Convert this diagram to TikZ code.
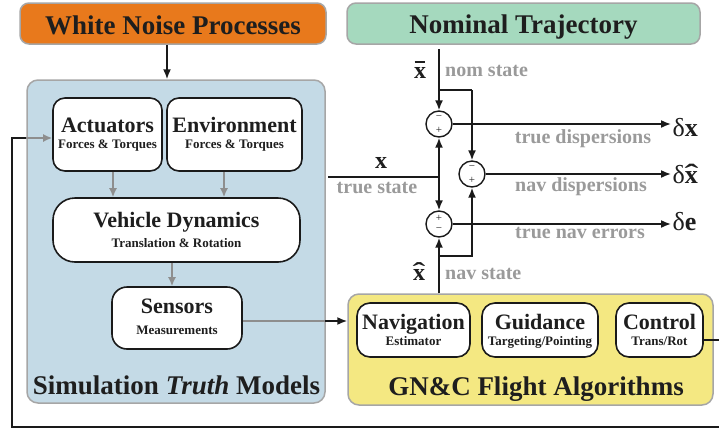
\documentclass[tikz,border=0pt]{standalone}
\usepackage{fontspec}
\usepackage{graphicx}
\setmainfont{Liberation Serif}
\usetikzlibrary{arrows.meta,calc}
\definecolor{txt}{HTML}{1E1E1E}
\definecolor{blk}{HTML}{1A1A1A}
\definecolor{bord}{HTML}{A6A6A6}
\definecolor{gtxt}{HTML}{9A9A9A}
\definecolor{garrow}{HTML}{8E8E8E}
\definecolor{orangeF}{HTML}{E8791C}
\definecolor{greenF}{HTML}{A5D9BE}
\definecolor{blueF}{HTML}{C4DAE6}
\definecolor{yellowF}{HTML}{F4E882}
\newcommand\fsz[1]{\fontsize{#1}{#1}\selectfont}
\newcommand\xbarsym{\ooalign{\bfseries x\cr\hidewidth\raisebox{0.62em}{\rule{0.44em}{0.075em}}\hidewidth\cr}}
\newcommand\xhatsym{\ooalign{\bfseries x\cr\hidewidth\raisebox{0.02em}{\scalebox{1.6}[1]{\bfseries ˆ}}\hidewidth\cr}}
\begin{document}
\begin{tikzpicture}[x=1pt,y=-1pt,
  bigbox/.style={draw=bord, line width=1.5pt, rounded corners=9pt, inner sep=0},
  wbox/.style={draw=blk, fill=white, line width=1.6pt, inner sep=0},
  ttl/.style={font=\bfseries\fsz{27}, text=txt, inner sep=0, anchor=base},
  hd/.style={font=\bfseries\fsz{22}, text=txt, inner sep=0, anchor=base},
  sub/.style={font=\bfseries\fsz{13}, text=txt, inner sep=0, anchor=base},
  glab/.style={font=\bfseries\fsz{20}, text=gtxt, inner sep=0, anchor=base},
  mlab/.style={font=\bfseries\fsz{24}, text=txt, inner sep=0, anchor=base},
  dlab/.style={font=\fsz{26}, text=txt, inner sep=1.5pt, anchor=base west},
  sumj/.style={circle, draw=blk, line width=1.4pt, minimum size=26pt, inner sep=0},
  sgn/.style={font=\fsz{11}, text=txt, inner sep=0},
  ln/.style={draw=blk, line width=1.6pt},
  arr/.style={draw=blk, line width=1.6pt, -{Latex[length=10pt,width=8pt]}},
  gln/.style={draw=garrow, line width=1.6pt},
  garr/.style={draw=garrow, line width=1.6pt, -{Latex[length=9pt,width=8pt]}}
]
\useasboundingbox (0,0) rectangle (719,429);

% big boxes
\node[bigbox, fill=orangeF, minimum width=306pt, minimum height=41pt] (wn) at (173,23.5) {};
\node[bigbox, fill=greenF, minimum width=353pt, minimum height=41pt] (nt) at (523.5,23.5) {};
\node[bigbox, fill=blueF, rounded corners=11pt, minimum width=298pt, minimum height=323pt] (sim) at (176,241.5) {};
\node[bigbox, fill=yellowF, rounded corners=11pt, minimum width=365pt, minimum height=111pt] (gnc) at (530.5,349.5) {};

\node[ttl] (wnT) at (173,34) {White Noise Processes};
\node[ttl] (ntT) at (523.5,33) {Nominal Trajectory};
\node[ttl] (simT) at (176.5,394) {Simulation \textit{Truth} Models};
\node[ttl] (gncT) at (536,395) {GN\&C Flight Algorithms};

% white boxes
\node[wbox, rounded corners=12pt, minimum width=109pt, minimum height=73pt] (act) at (107.5,134.5) {};
\node[wbox, rounded corners=12pt, minimum width=135pt, minimum height=73pt] (env) at (234.5,134.5) {};
\node[wbox, rounded corners=22pt, minimum width=247pt, minimum height=64pt] (vd) at (176.5,230) {};
\node[wbox, rounded corners=15pt, minimum width=130pt, minimum height=62pt] (sen) at (177,318) {};
\node[wbox, rounded corners=13pt, minimum width=113pt, minimum height=54pt] (nav) at (413.5,330) {};
\node[wbox, rounded corners=13pt, minimum width=116pt, minimum height=54pt] (gui) at (540,330) {};
\node[wbox, rounded corners=13pt, minimum width=87pt, minimum height=54pt] (ctl) at (659.5,330) {};

\node[hd] (actH) at (107.5,132) {Actuators};
\node[sub] (actS) at (107.5,148) {Forces \& Torques};
\node[hd] (envH) at (234.5,132) {Environment};
\node[sub] (envS) at (234.5,148) {Forces \& Torques};
\node[hd] (vdH) at (176.5,227) {Vehicle Dynamics};
\node[sub] (vdS) at (176.5,247) {Translation \& Rotation};
\node[hd] (senH) at (177,313) {Sensors};
\node[sub] (senS) at (177,334) {Measurements};
\node[hd] (navH) at (413.5,329) {Navigation};
\node[sub] (navS) at (413.5,345) {Estimator};
\node[hd] (guiH) at (540,329) {Guidance};
\node[sub] (guiS) at (540,345) {Targeting/Pointing};
\node[hd] (ctlH) at (659.5,329) {Control};
\node[sub] (ctlS) at (659.5,345) {Trans/Rot};

% summing junctions
\node[sumj] (c1) at (439,124) {};
\node[sumj] (c2) at (472,174) {};
\node[sumj] (c3) at (439,224) {};
\node[sgn] (c1a) at (439,118) {−};
\node[sgn] (c1b) at (439,130) {+};
\node[sgn] (c2a) at (472,168) {−};
\node[sgn] (c2b) at (472,180) {+};
\node[sgn] (c3a) at (439,218) {+};
\node[sgn] (c3b) at (439,230) {−};

% labels
\node[mlab] (xbar) at (420,78) {\xbarsym};
\node[glab, anchor=base west] (nomL) at (445,76) {nom state};
\node[mlab] (xl) at (381,168) {x};
\node[glab] (trueL) at (377,193) {true state};
\node[mlab] (xhat) at (419,280) {\xhatsym};
\node[glab, anchor=base west] (navL) at (445,279) {nav state};
\node[glab] (tdL) at (583,143) {true dispersions};
\node[glab] (ndL) at (581,191) {nav dispersions};
\node[glab] (teL) at (580,238) {true nav errors};
\node[dlab] (dx) at (671,136) {δ\textbf{x}};
\node[dlab] (dxh) at (671,183) {δ\xhatsym};
\node[dlab] (de) at (671,230) {δ\textbf{e}};

% coordinates
\coordinate (wa) at (167,0);
\coordinate (ga1) at (113,0);
\coordinate (ga2) at (224,0);
\coordinate (ga3) at (172,0);
\coordinate (s1) at (325,321);
\coordinate (fb1) at (721,340);
\coordinate (fb2) at (721,427);
\coordinate (fb3) at (12,427);
\coordinate (fb4) at (12,138);
\coordinate (xj) at (439,177);
\coordinate (xs) at (328,177);
\coordinate (nt0) at (439,49);
\coordinate (nb) at (439,90);
\coordinate (nb2) at (472,90);
\coordinate (nvb) at (439,256);
\coordinate (nvb2) at (472,256);

% connectors
\draw[arr] (wn.south -| wa) -- (sim.north -| wa);
\draw[garr] (act.south -| ga1) -- (vd.north -| ga1);
\draw[garr] (env.south -| ga2) -- (vd.north -| ga2);
\draw[garr] (vd.south -| ga3) -- (sen.north -| ga3);
\draw[gln] (sen.east |- s1) -- (s1);
\draw[arr] (s1) -- (gnc.west |- s1);
\draw[ln] (ctl.east |- fb1) -- (fb1) -- (fb2) -- (fb3) -- (fb4) -- (sim.west |- fb4);
\draw[garr] (sim.west |- fb4) -- (act.west |- fb4);

\draw[ln] (xs) -- (xj);
\draw[arr] (xj) -- (c1.south);
\draw[arr] (xj) -- (c3.north);
\draw[ln] (nt0) -- (nb) -- (nb2);
\draw[arr] (nb) -- (c1.north);
\draw[arr] (nb2) -- (c2.north);
\draw[arr] (gnc.north -| c3) -- (c3.south);
\draw[arr] (nvb) -- (nvb2) -- (c2.south);
\draw[arr] (c1.east) -- (c1 -| dx.west);
\draw[arr] (c2.east) -- (c2 -| dxh.west);
\draw[arr] (c3.east) -- (c3 -| de.west);
\end{tikzpicture}
\end{document}
